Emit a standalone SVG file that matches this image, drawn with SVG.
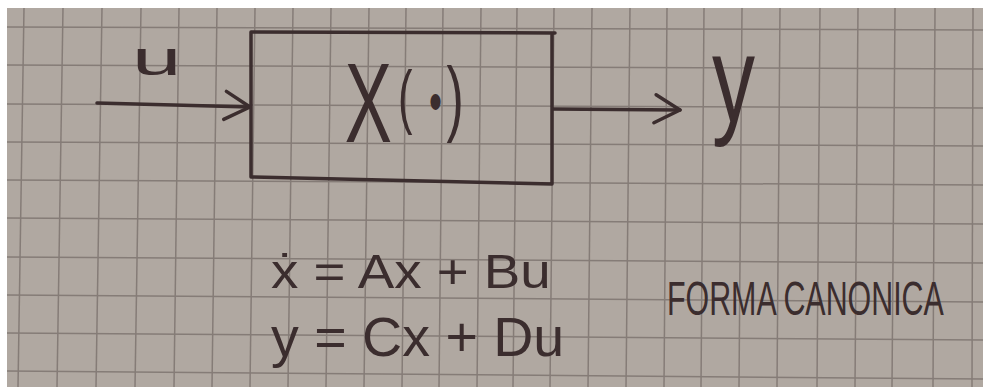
<svg xmlns="http://www.w3.org/2000/svg" width="983" height="387" viewBox="0 0 983 387">
<style>
.grid line{stroke:#857c77;stroke-width:1.5}
.ink{fill:none;stroke:#3b2d2e;stroke-width:3.5;stroke-linecap:round;stroke-linejoin:round}
.t{fill:#3b2d2e;font-family:"Liberation Sans","DejaVu Sans",sans-serif}
</style>
<defs>
<marker id="arr" markerUnits="userSpaceOnUse" markerWidth="40" markerHeight="40" refX="30" refY="15" orient="auto" viewBox="0 0 40 30">
<path d="M6,0 L30,15 L4,28" fill="none" stroke="#3b2d2e" stroke-width="3.5" stroke-linecap="round" stroke-linejoin="round"/>
</marker>
</defs>
<rect width="983" height="387" fill="#ffffff"/>
<rect x="7" y="8" width="976" height="379" fill="#b0a8a1"/>
<g class="grid">
<line x1="24" y1="8" x2="18" y2="387"/>
<line x1="63" y1="8" x2="57" y2="387"/>
<line x1="102" y1="8" x2="96" y2="387"/>
<line x1="141" y1="8" x2="135" y2="387"/>
<line x1="179" y1="8" x2="174" y2="387"/>
<line x1="217" y1="8" x2="212" y2="387"/>
<line x1="255" y1="8" x2="250" y2="387"/>
<line x1="293" y1="8" x2="288" y2="387"/>
<line x1="331" y1="8" x2="326" y2="387"/>
<line x1="369" y1="8" x2="364" y2="387"/>
<line x1="406" y1="8" x2="402" y2="387"/>
<line x1="443" y1="8" x2="439" y2="387"/>
<line x1="481" y1="8" x2="477" y2="387"/>
<line x1="517" y1="8" x2="513" y2="387"/>
<line x1="554" y1="8" x2="550" y2="387"/>
<line x1="592" y1="8" x2="588" y2="387"/>
<line x1="630" y1="8" x2="626" y2="387"/>
<line x1="667" y1="8" x2="664" y2="387"/>
<line x1="704" y1="8" x2="701" y2="387"/>
<line x1="742" y1="8" x2="739" y2="387"/>
<line x1="780" y1="8" x2="777" y2="387"/>
<line x1="820" y1="8" x2="817" y2="387"/>
<line x1="858" y1="8" x2="855" y2="387"/>
<line x1="895" y1="8" x2="892" y2="387"/>
<line x1="935" y1="8" x2="933" y2="387"/>
<line x1="973" y1="8" x2="972" y2="387"/>
<line x1="7" y1="27" x2="983" y2="30"/>
<line x1="7" y1="65" x2="983" y2="69"/>
<line x1="7" y1="104" x2="983" y2="108"/>
<line x1="7" y1="142" x2="983" y2="146"/>
<line x1="7" y1="180" x2="983" y2="185"/>
<line x1="7" y1="218" x2="983" y2="224"/>
<line x1="7" y1="257" x2="983" y2="263"/>
<line x1="7" y1="295" x2="983" y2="302"/>
<line x1="7" y1="333" x2="983" y2="340"/>
<line x1="7" y1="371" x2="983" y2="379"/>
</g>
<g id="connectors">
<path class="ink" d="M97,103 L250,107" marker-end="url(#arr)"/>
<path class="ink" d="M553,109 L680,110" marker-end="url(#arr)"/>
</g>
<g id="system">
<path class="ink" d="M251,32 L555,33 M251,32 L251,177 L552,184 M552,33 L552,184"/>
<text class="t" transform="scale(0.62 1)" font-size="114"><tspan x="556" y="142">X</tspan><tspan x="642" y="120" font-size="70">(</tspan><tspan x="692" y="122" font-size="60">•</tspan><tspan x="720" y="126" font-size="84">)</tspan></text>
</g>
<g id="input-u">
<text class="t" transform="translate(132,75) scale(1.85 1)" font-size="48">u</text>
</g>
<g id="output-y">
<text class="t" transform="translate(712,122) scale(0.7 1)" font-size="123">y</text>
</g>
<g id="equations">
<text class="t" transform="translate(271,288) scale(1.14 1)" font-size="48">ẋ = Ax + Bu</text>
<text class="t" transform="translate(271,356) scale(1.01 1)" font-size="55">y = Cx + Du</text>
</g>
<g id="forma-canonica">
<text class="t" transform="translate(667,315) scale(0.633 1)" font-size="48">FORMA CANONICA</text>
</g>
</svg>
